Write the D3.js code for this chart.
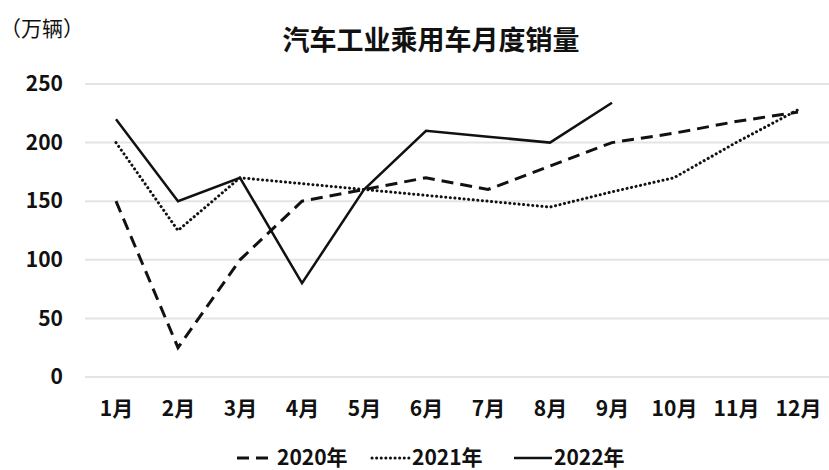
<!DOCTYPE html>
<html lang="zh">
<head>
<meta charset="UTF-8">
<title>汽车工业乘用车月度销量</title>
<style>
    body { margin: 0; background: #fff; }
    svg { font-family: "Noto Sans CJK SC", "Noto Sans", sans-serif; }
</style>
</head>
<body>
<svg></svg>
<script src="https://d3js.org/d3.v7.min.js"></script>
<script>
    var months = ["1月", "2月", "3月", "4月", "5月", "6月", "7月", "8月", "9月", "10月", "11月", "12月"];
    var yTicks = [0, 50, 100, 150, 200, 250];
    var sales2020 = [150, 25, 100, 150, 160, 170, 160, 180, 200, 208, 218, 226];
    var sales2021 = [200, 125, 170, 165, 160, 155, 150, 145, 158, 170, 200, 228];
    var sales2022 = [220, 150, 170, 80, 160, 210, 205, 200, 234];
    var seriesNames = ["2020年", "2021年", "2022年"];

    var svgWidth = 829, svgHeight = 470;
    var svg = d3.select("svg").attr("width", svgWidth).attr("height", svgHeight);

    var x = d3.scalePoint().domain(months).range([85, 829]).padding(0.5);
    var y = d3.scaleLinear().domain([0, 250]).range([377, 84]);

    // grid lines
    svg.append("g")
        .selectAll("line")
        .data(yTicks)
        .enter().append("line")
        .attr("x1", 85).attr("x2", 829)
        .attr("y1", function(d) { return y(d); })
        .attr("y2", function(d) { return y(d); })
        .attr("stroke", "#e4e4e4")
        .attr("stroke-width", 2);

    // y axis labels
    var yAxis = svg.append("g")
        .attr("transform", "translate(63,0)")
        .call(d3.axisLeft(y).tickValues(yTicks).tickSize(0).tickPadding(0));
    yAxis.select(".domain").remove();
    yAxis.selectAll("text")
        .attr("font-size", 21).attr("font-weight", "bold").attr("fill", "#111")
        .attr("font-family", "'Noto Sans CJK SC', sans-serif");

    // x axis labels
    var xAxis = svg.append("g")
        .attr("transform", "translate(0,401)")
        .call(d3.axisBottom(x).tickSize(0).tickPadding(0));
    xAxis.select(".domain").remove();
    xAxis.selectAll("text")
        .attr("font-size", 21).attr("font-weight", "bold").attr("fill", "#111")
        .attr("font-family", "'Noto Sans CJK SC', sans-serif");

    var styles = [
        { data: sales2020, dash: "12,7", width: 3, cap: "butt" },
        { data: sales2021, dash: "0.1,4.5", width: 3, cap: "round" },
        { data: sales2022, dash: null, width: 2.5, cap: "butt" }
    ];

    var line = d3.line()
        .x(function(d, i) { return x(months[i]); })
        .y(function(d) { return y(d); });

    styles.forEach(function(s) {
        svg.append("path")
            .datum(s.data)
            .attr("fill", "none")
            .attr("stroke", "#111")
            .attr("stroke-width", s.width)
            .attr("stroke-linecap", s.cap)
            .attr("stroke-linejoin", "miter")
            .attr("stroke-dasharray", s.dash)
            .attr("d", line);
    });

    // title
    svg.append("text")
        .attr("x", 431).attr("y", 50)
        .attr("text-anchor", "middle")
        .attr("font-size", 27).attr("font-weight", "bold").attr("fill", "#111")
        .text("汽车工业乘用车月度销量");

    // unit label
    svg.append("text")
        .attr("x", 0).attr("y", 36)
        .attr("font-size", 21).attr("fill", "#111")
        .text("（万辆）");

    // legend
    var legendX = [237, 372, 514];
    var legend = svg.append("g");
    styles.forEach(function(s, i) {
        legend.append("line")
            .attr("x1", legendX[i]).attr("x2", legendX[i] + 38)
            .attr("y1", 458).attr("y2", 458)
            .attr("stroke", "#111")
            .attr("stroke-width", s.width)
            .attr("stroke-linecap", s.cap)
            .attr("stroke-dasharray", i === 0 ? "12,7" : s.dash);
        legend.append("text")
            .attr("x", legendX[i] + 40).attr("y", 465)
            .attr("font-size", 21).attr("font-weight", "bold").attr("fill", "#111")
            .text(seriesNames[i]);
    });
</script>
</body>
</html>
